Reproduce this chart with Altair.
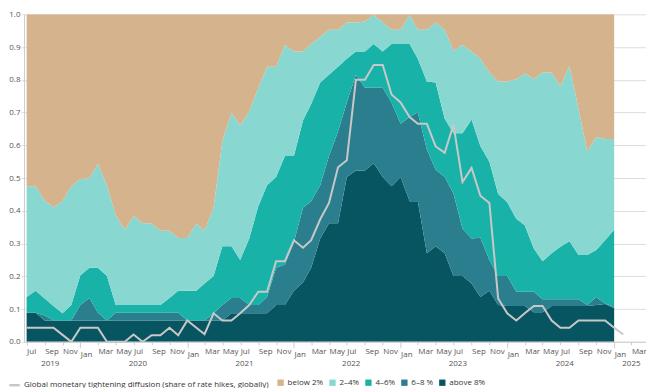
import altair as alt
import pandas as pd

# ---------------- data ----------------
categories = ["below 2%", "2–4%", "4–6%", "6–8 %", "above 8%"]
colors = ["#D5B38C", "#88D8D1", "#18B2A9", "#2A7E8E", "#085562"]

above_8 = [0.089, 0.089] + [0.065] * 21 + [0.087] * 5 + [
    0.112, 0.112, 0.156, 0.181, 0.226, 0.315, 0.362, 0.362, 0.503, 0.523,
    0.523, 0.545, 0.503, 0.475, 0.503, 0.429, 0.429, 0.270, 0.292, 0.270,
    0.201, 0.201, 0.178, 0.137, 0.156, 0.112, 0.109, 0.109, 0.109, 0.090,
    0.090, 0.109, 0.109, 0.109, 0.109, 0.109, 0.112, 0.115, 0.102]
six_8 = [0, 0, 0.015, 0, 0, 0, 0.047, 0.069, 0.024, 0, 0.024, 0.024, 0.024, 0.024,
         0.024, 0.024, 0.024, 0.024, 0, 0, 0, 0.022, 0.047, 0.047, 0.047, 0.025,
         0.025, 0.050, 0.114, 0.124, 0.149, 0.228, 0.203, 0.163, 0.205, 0.280,
         0.228, 0.292, 0.253, 0.231, 0.273, 0.256, 0.163, 0.257, 0.272, 0.317,
         0.233, 0.233, 0.252, 0.144, 0.137, 0.181, 0.094, 0.089, 0.092, 0.044,
         0.044, 0.063, 0.040, 0.021, 0.021, 0.021, 0.021, 0.003, 0.025, 0.002, 0.005]
four_6 = [0.048, 0.067, 0.052, 0.044, 0.022, 0.047, 0.091, 0.092, 0.137, 0.136,
          0.023, 0.023, 0.023, 0.023, 0.023, 0.023, 0.045, 0.067, 0.091, 0.091,
          0.113, 0.114, 0.180, 0.158, 0.116, 0.203, 0.302, 0.341, 0.277, 0.331,
          0.262, 0.267, 0.297, 0.314, 0.248, 0.198, 0.133, 0.071, 0.110, 0.133,
          0.110, 0.178, 0.243, 0.223, 0.163, 0.208, 0.267, 0.178, 0.184, 0.292,
          0.364, 0.280, 0.300, 0.250, 0.225, 0.223, 0.203, 0.132, 0.116, 0.140,
          0.160, 0.177, 0.135, 0.153, 0.143, 0.193, 0.235]
two_4 = [0.338, 0.319, 0.299, 0.302, 0.342, 0.363, 0.294, 0.273, 0.317, 0.277,
         0.274, 0.230, 0.272, 0.250, 0.249, 0.227, 0.205, 0.161, 0.161, 0.205,
         0.161, 0.208, 0.320, 0.407, 0.411, 0.388, 0.361, 0.362, 0.337, 0.339,
         0.319, 0.210, 0.183, 0.139, 0.138, 0.113, 0.111, 0.089, 0.092, 0.089,
         0.090, 0.044, 0.044, 0.089, 0.089, 0.158, 0.183, 0.272, 0.252, 0.270,
         0.207, 0.266, 0.272, 0.344, 0.369, 0.426, 0.464, 0.517, 0.576, 0.552,
         0.490, 0.535, 0.446, 0.317, 0.345, 0.309, 0.277]
below_2 = [0.525, 0.525, 0.569, 0.589, 0.571, 0.525, 0.503, 0.501, 0.457, 0.522,
           0.614, 0.658, 0.616, 0.638, 0.639, 0.661, 0.661, 0.683, 0.683, 0.639,
           0.661, 0.591, 0.388, 0.301, 0.339, 0.297, 0.225, 0.160, 0.160, 0.094,
           0.114, 0.114, 0.091, 0.069, 0.047, 0.047, 0.025, 0.025, 0.022, 0.002,
           0.024, 0.047, 0.047, 0.002, 0.047, 0.047, 0.025, 0.047, 0.111, 0.093,
           0.114, 0.136, 0.178, 0.205, 0.205, 0.198, 0.180, 0.198, 0.178, 0.178,
           0.220, 0.158, 0.289, 0.418, 0.375, 0.381, 0.381]

line_name = "Global monetary tightening diffusion (share of rate hikes, globally)"
diffusion = [0.043, 0.043, 0.043, 0.043, 0.021, 0.0, 0.043, 0.043, 0.043, 0.0,
             0.0, 0.0, 0.022, 0.0, 0.020, 0.020, 0.043, 0.020, 0.065, 0.043,
             0.023, 0.087, 0.065, 0.065, 0.087, 0.112, 0.153, 0.153, 0.246, 0.246,
             0.310, 0.287, 0.310, 0.374, 0.424, 0.533, 0.554, 0.800, 0.800, 0.845,
             0.845, 0.755, 0.731, 0.686, 0.666, 0.666, 0.597, 0.577, 0.663, 0.488,
             0.531, 0.446, 0.424, 0.132, 0.087, 0.065, 0.087, 0.109, 0.109, 0.065,
             0.043, 0.043, 0.065, 0.065, 0.065, 0.065, 0.043, 0.022]

years = ["2019", "2020", "2021", "2022", "2023", "2024", "2025"]
year_pos = ["2019-09-20", "2020-07-16", "2021-07-16", "2022-07-16",
            "2023-07-16", "2024-07-16", "2025-03-01"]

# ---------------- tables ----------------
months = [d.strftime("%Y-%m-%d") for d in pd.date_range("2019-07-01", periods=len(above_8), freq="MS")]
line_months = [d.strftime("%Y-%m-%d") for d in pd.date_range("2019-07-01", periods=len(diffusion), freq="MS")]

series = {"above 8%": above_8, "6–8 %": six_8, "4–6%": four_6, "2–4%": two_4, "below 2%": below_2}
rows = []
for k, (name, vals) in enumerate(series.items()):
    for d, v in zip(months, vals):
        rows.append({"date": d, "cat": name, "share": v, "ord": k})
area_df = pd.DataFrame(rows)
line_df = pd.DataFrame({"date": line_months, "value": diffusion, "series": line_name})
year_df = pd.DataFrame({"date": year_pos, "year": years})

tick_dates = [alt.DateTime(year=d.year, month=d.month, date=1, utc=True)
              for d in pd.date_range("2019-07-01", "2025-03-01", freq="2MS")]

FONT = "Open Sans"
W, H = 623, 328

x_scale = alt.Scale(type="utc",
                    domain=[alt.DateTime(year=2019, month=6, date=22, utc=True),
                            alt.DateTime(year=2025, month=4, date=20, utc=True)])
y_scale = alt.Scale(domain=[0, 1], nice=False)

x_axis = alt.Axis(values=tick_dates, labelExpr="utcFormat(datum.value, '%b')", title=None,
                  labelAlign="left", labelPadding=3, labelFontSize=8, labelFont=FONT,
                  labelColor="#555", labelOverlap=False, labelFlush=False, grid=False,
                  domainColor="#CCCCCC", tickColor="#CCCCCC",
                  tickSize={"condition": {"test": "utcmonth(datum.value) === 0", "value": 6}, "value": 3})
y_axis = alt.Axis(values=[i / 10 for i in range(11)], format=".1f", title=None,
                  labelFontSize=8, labelFont=FONT, labelColor="#555", labelPadding=1,
                  tickSize=3, tickColor="#DDDDDD", gridColor="#DDDDDD",
                  domainColor="#CCCCCC", labelOverlap=False)

X = alt.X("date:T", scale=x_scale, axis=x_axis)

areas = alt.Chart(area_df).mark_area(interpolate="linear", clip=True).encode(
    x=X,
    y=alt.Y("share:Q", stack="zero", scale=y_scale, axis=y_axis),
    fill=alt.Fill("cat:N", scale=alt.Scale(domain=categories, range=colors),
                  legend=alt.Legend(title=None, orient="none", direction="horizontal",
                                    legendX=253, legendY=365, symbolType="square",
                                    symbolSize=40, symbolStrokeWidth=0, labelFontSize=8,
                                    labelFont=FONT, labelColor="#333", columnPadding=5,
                                    labelOffset=3, padding=0, labelLimit=0)),
    order=alt.Order("ord:Q", sort="ascending"),
)

line = alt.Chart(line_df).mark_line(strokeWidth=2, interpolate="linear").encode(
    x=X,
    y=alt.Y("value:Q", scale=y_scale, axis=y_axis),
    stroke=alt.Stroke("series:N", scale=alt.Scale(range=["#C8C8C8"]),
                      legend=alt.Legend(title=None, orient="none", legendX=-16, legendY=365,
                                        symbolType="stroke", symbolSize=110,
                                        symbolStrokeWidth=2.5, labelFontSize=8,
                                        labelFont=FONT, labelColor="#333",
                                        labelOffset=3, padding=0, labelLimit=0)),
)

year_text = alt.Chart(year_df).mark_text(fontSize=8, font=FONT, color="#555",
                                         baseline="middle", align="center").encode(
    x=X,
    y=alt.value(350),
    text="year:N",
)

chart = alt.layer(areas, line, year_text).resolve_scale(
    fill="independent", stroke="independent"
).properties(
    width=W, height=H,
    autosize=alt.AutoSizeParams(type="none"),
    padding={"left": 16, "top": 6, "right": 0, "bottom": 46},
).configure_view(strokeWidth=0)

chart.save("out.html", embed_options={"renderer": "svg", "actions": False})
